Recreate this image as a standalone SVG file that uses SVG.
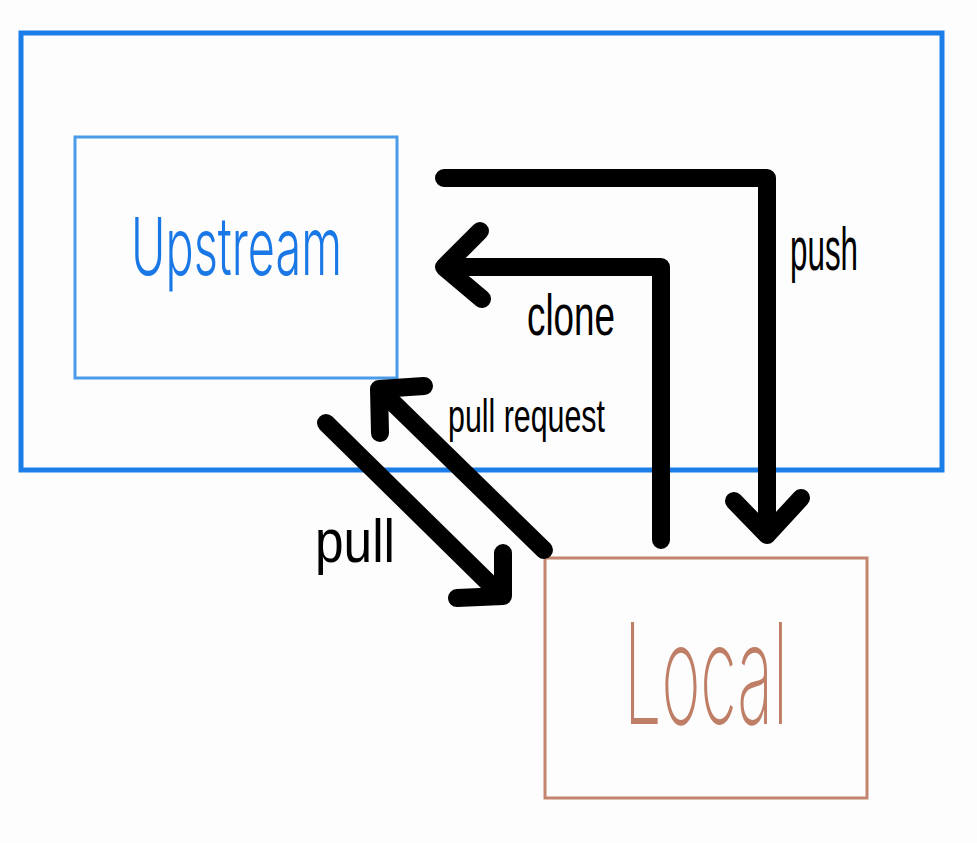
<svg xmlns="http://www.w3.org/2000/svg" width="977" height="843" viewBox="0 0 977 843">
<style>
.bg{fill:#fdfdfd}
.arrow{fill:none;stroke:#000;stroke-width:18;stroke-linecap:round;stroke-linejoin:round}
.lbl{font-family:"Liberation Sans",Arial,sans-serif;fill:#000}
</style>
<rect class="bg" x="0" y="0" width="977" height="843"/>
<g id="upstream-area">
<rect x="21" y="33" width="921" height="437" fill="none" stroke="#1a7de8" stroke-width="5"/>
</g>
<g id="upstream">
<rect x="75" y="137" width="322" height="241" fill="none" stroke="#4b9be9" stroke-width="3"/>
<text x="131" y="275" font-family="Inter,'Liberation Sans',sans-serif" font-weight="300" font-size="80" fill="#1a78e6" textLength="211" lengthAdjust="spacingAndGlyphs">Upstream</text>
</g>
<g id="local">
<rect x="545" y="558" width="322" height="240" fill="none" stroke="#c4856e" stroke-width="3"/>
<text x="624" y="724" font-family="Inter,'Liberation Sans',sans-serif" font-weight="200" font-size="140" fill="#bf7f67" textLength="164" lengthAdjust="spacingAndGlyphs">Local</text>
</g>
<g id="connectors">
<g id="push">
<path class="arrow" d="M444 178 H767 V535 M734 501 L767 535 L801 498"/>
<text class="lbl" x="790" y="270" font-size="62" textLength="68" lengthAdjust="spacingAndGlyphs">push</text>
</g>
<g id="clone">
<path class="arrow" d="M661 540 V267 H444 M480 231 L444 267 L482 299"/>
<text class="lbl" x="527" y="335" font-size="58" textLength="88" lengthAdjust="spacingAndGlyphs">clone</text>
</g>
<g id="pull-request">
<path class="arrow" d="M544 550 L379 389 M380 433 L379 389 L424 386"/>
<text class="lbl" x="448" y="432" font-size="46" textLength="157" lengthAdjust="spacingAndGlyphs">pull request</text>
</g>
<g id="pull">
<path class="arrow" d="M326 423 L502 596 M503 553 L503 596 L457 598"/>
<text class="lbl" x="315" y="562" font-size="62" textLength="80" lengthAdjust="spacingAndGlyphs">pull</text>
</g>
</g>
</svg>
